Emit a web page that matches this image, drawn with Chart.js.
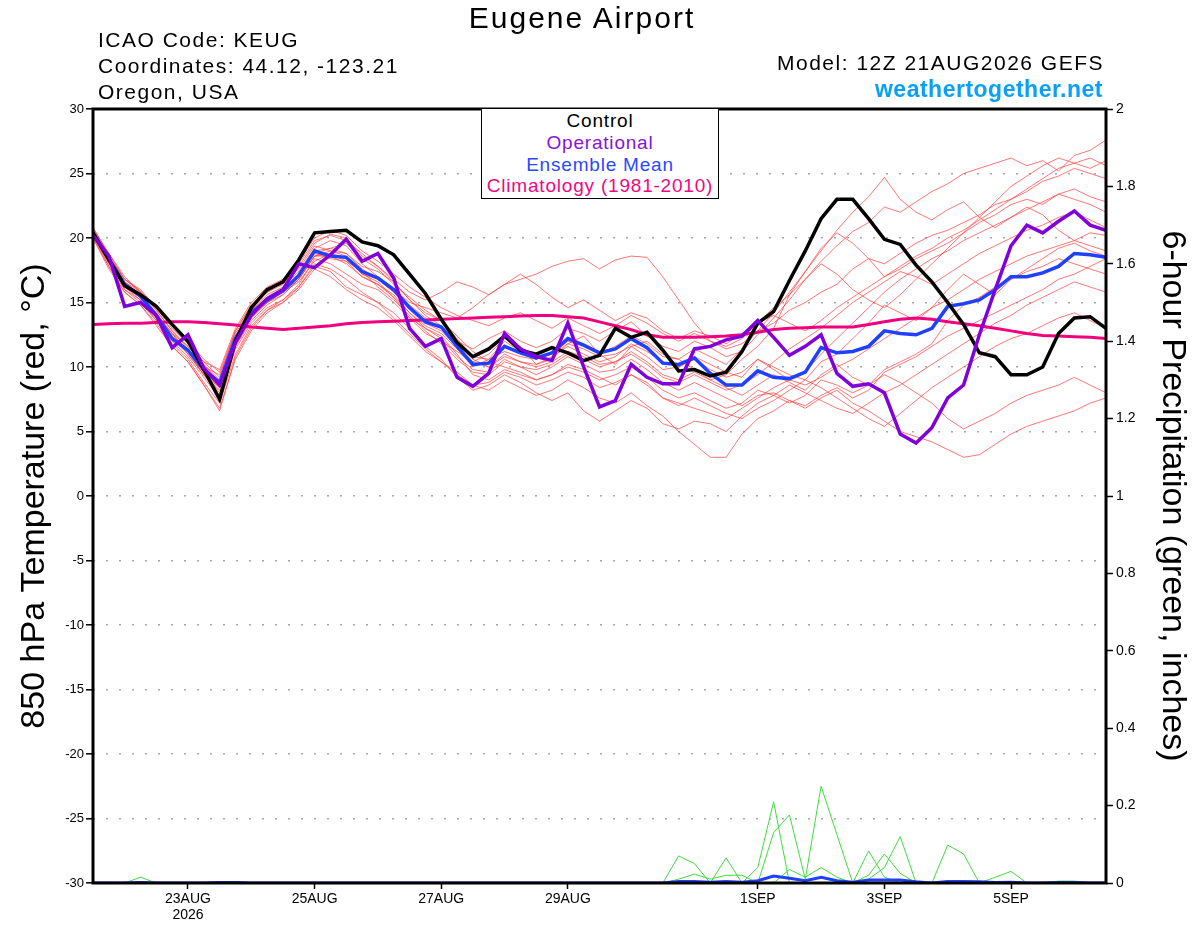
<!DOCTYPE html>
<html>
<head>
<meta charset="utf-8">
<title>Eugene Airport</title>
<script src="https://cdn.jsdelivr.net/npm/chart.js@4.4.1/dist/chart.umd.min.js"></script>
<style>
  body { margin: 0; background: #fff; font-family: "Liberation Sans", Arial, sans-serif; }
  #wrap { position: relative; width: 1200px; height: 927px; overflow: hidden; }
  canvas { position: absolute; left: 0; top: 0; }
  .txt { position: absolute; white-space: nowrap; color: #000; }
  #title { left: 382px; width: 400px; top: 1px; text-align: center; font-size: 30px; line-height: 34px; letter-spacing: 2px; }
  .info { left: 98px; font-size: 21px; line-height: 24px; letter-spacing: 1.5px; }
  #model { right: 96px; top: 51px; font-size: 21px; line-height: 24px; letter-spacing: 1.5px; }
  #site { right: 97px; top: 76px; font-size: 23px; line-height: 26px; font-weight: bold; color: #0aa0f8; letter-spacing: 0.5px; }
  #legendBox { position: absolute; left: 481px; top: 108px; width: 236px; height: 88px; border: 1.5px solid #000;
               background: #fff; text-align: center; font-size: 19px; line-height: 21.8px; letter-spacing: 0.8px; padding-top: 1px; }
</style>
</head>
<body>
<div id="wrap">
  <canvas id="c" width="1200" height="927"></canvas>
  <div id="title" class="txt">Eugene Airport</div>
  <div class="txt info" style="top:28px">ICAO Code: KEUG</div>
  <div class="txt info" style="top:54px">Coordinates: 44.12, -123.21</div>
  <div class="txt info" style="top:80px">Oregon, USA</div>
  <div id="model" class="txt">Model: 12Z 21AUG2026 GEFS</div>
  <div id="site" class="txt">weathertogether.net</div>
  <div id="legendBox">
    <div style="color:#000">Control</div>
    <div style="color:#8a10e0">Operational</div>
    <div style="color:#2a48ff">Ensemble Mean</div>
    <div style="color:#f0087f">Climatology (1981-2010)</div>
  </div>
</div>
<script>
// run starts 12Z 21AUG2026, one value every 6 hours out to 384 h
const stepHours = 6;
const tickHours = [36, 84, 132, 180, 252, 300, 348];
const tickLabels = [['23AUG', '2026'], '25AUG', '27AUG', '29AUG', '1SEP', '3SEP', '5SEP'];

// 850 hPa temperature (C)
const control = [
  20.4, 18.3, 16.3, 15.6, 14.7, 13.3, 12.0, 9.8, 7.5, 12.0,
  14.6, 16.0, 16.6, 18.3, 20.4, 20.5, 20.6, 19.7, 19.4, 18.7,
  17.2, 15.7, 13.7, 11.9, 10.8, 11.4, 12.4, 11.3, 11.0, 11.5,
  11.1, 10.5, 10.9, 13.0, 12.3, 12.7, 11.3, 9.7, 9.8, 9.3,
  9.6, 11.2, 13.4, 14.3, 16.7, 19.0, 21.5, 23.0, 23.0, 21.5,
  19.9, 19.5, 17.9, 16.6, 15.0, 13.3, 11.1, 10.8, 9.4, 9.4,
  10.0, 12.6, 13.8, 13.9, 13.0
];
const operational = [
  20.2, 18.6, 14.7, 15.0, 14.0, 11.5, 12.5, 9.9, 8.6, 11.9,
  14.0, 15.3, 16.0, 18.0, 17.7, 18.7, 19.9, 18.2, 18.8, 16.9,
  13.0, 11.6, 12.2, 9.2, 8.5, 9.5, 12.6, 11.4, 10.8, 10.5,
  13.4, 10.0, 6.9, 7.4, 10.2, 9.2, 8.7, 8.7, 11.4, 11.6,
  12.1, 12.4, 13.6, 12.3, 10.9, 11.6, 12.5, 9.5, 8.5, 8.7,
  8.0, 4.8, 4.1, 5.3, 7.6, 8.6, 12.5, 16.0, 19.4, 21.0,
  20.4, 21.3, 22.1, 21.0, 20.6
];
const ensembleMean = [
  20.4, 18.4, 16.4, 15.5, 14.0, 12.2, 11.3, 9.8, 8.8, 12.2,
  14.2, 15.2, 15.9, 17.1, 19.0, 18.6, 18.5, 17.4, 16.9, 16.0,
  14.6, 13.5, 13.1, 11.6, 10.2, 10.3, 11.6, 11.1, 10.7, 11.1,
  12.2, 11.7, 11.1, 11.4, 12.2, 11.5, 10.3, 10.2, 10.7, 9.5,
  8.6, 8.6, 9.7, 9.2, 9.1, 9.6, 11.5, 11.1, 11.2, 11.6,
  12.8, 12.6, 12.5, 13.0, 14.7, 14.9, 15.2, 16.0, 17.0, 17.0,
  17.3, 17.8, 18.8, 18.7, 18.5
];
const climatology = [
  13.3, 13.35, 13.4, 13.4, 13.45, 13.5, 13.5, 13.45, 13.35, 13.25,
  13.1, 13.0, 12.9, 13.0, 13.1, 13.2, 13.35, 13.45, 13.5, 13.55,
  13.6, 13.65, 13.7, 13.75, 13.8, 13.85, 13.9, 13.95, 14.0, 14.0,
  13.9, 13.8, 13.5, 13.2, 12.9, 12.5, 12.3, 12.3, 12.3, 12.35,
  12.4, 12.5, 12.7, 12.9, 13.0, 13.05, 13.1, 13.1, 13.1, 13.3,
  13.5, 13.7, 13.8, 13.7, 13.5, 13.35, 13.2, 13.0, 12.8, 12.6,
  12.45, 12.4, 12.35, 12.3, 12.2
];

// ensemble members
const m01 = [20.8,18.6,16.8,15.9,14.6,13.0,11.8,10.4,9.2, 12.8,14.8,15.8,16.4,17.8,19.6,20.3,20.0,18.6,17.8, 16.6,15.2,14.0,13.2,12.0,11.4,12.2,12.8,12.0,11.5, 12.0,13.0,12.6,12.0,12.8,13.5,12.4,11.6,11.2,12.0, 11.5,10.8,11.2,12.5,13.8,15.2,16.8,18.2,19.4,20.5, 21.2,22.4,22.0,22.8,23.6,24.2,25.0,25.4,25.8,26.2, 25.6,26.0,25.2,26.4,26.8,27.6];
const m02 = [20.2,18.0,16.2,15.2,13.8,12.6,11.0,9.4,8.2, 11.6,13.6,14.8,15.6,16.8,18.6,19.0,18.6,17.2,16.6, 15.4,13.8,12.6,12.0,11.2,10.4,11.0,12.2,11.6,10.2, 10.6,11.8,12.4,11.0,10.2,11.6,12.0,11.0,10.6,9.8, 9.0,9.4,10.6,11.6,13.0,15.6,17.4,19.0,20.6,22.0, 23.2,24.7,23.0,22.0,21.4,22.2,22.8,21.6,20.8,21.6, 22.4,21.8,20.6,19.8,19.4,19.0];
const m03 = [20.6,18.8,17.0,15.8,14.4,12.8,11.6,10.2,9.0, 12.4,14.4,15.6,16.2,17.4,19.2,19.8,19.4,18.0,17.0, 16.0,15.0,14.6,14.2,13.8,14.6,15.6,16.4,16.8,17.2, 17.8,18.2,18.4,17.6,18.3,18.6,18.5,17.0,15.2,13.4, 12.0,11.4,11.8,12.8,13.4,14.4,15.0,15.8,16.4,17.6, 18.4,18.0,18.8,19.6,20.2,20.6,21.2,21.8,22.6,23.0, 23.6,24.4,24.8,25.4,25.0,24.6];
const m04 = [20.0,17.6,15.8,14.8,13.2,11.6,10.4,8.6,6.6, 10.8,13.0,14.4,15.0,16.2,18.0,17.6,16.8,15.8,15.0, 13.8,12.6,11.4,10.4,9.6,8.6,8.2,9.0,8.4,7.8, 8.2,9.0,8.4,7.6,7.2,8.0,7.0,6.2,5.0,4.0, 3.0,3.0,4.8,6.0,6.6,7.4,7.0,7.8,8.4,7.6, 8.2,9.6,10.2,10.8,11.6,12.4,13.0,13.6,14.2,14.8, 15.4,16.0,16.8,17.2,17.8,18.4];
const m05 = [20.4,18.2,16.4,15.4,14.0,12.2,11.2,9.6,8.0, 11.8,13.8,15.0,15.8,16.6,18.2,18.8,18.2,17.4,16.2, 15.2,14.0,12.8,11.8,10.6,9.6,9.4,10.4,10.0,9.4, 10.0,10.8,10.2,9.6,9.8,10.6,9.8,8.8,8.2,8.8, 8.2,7.6,7.0,7.8,8.0,7.4,6.8,7.6,8.2,7.2, 6.6,5.8,5.0,4.6,4.2,3.6,3.0,3.2,4.0,4.8, 5.4,5.8,6.2,6.6,7.2,7.6];
const m06 = [20.6,18.4,16.6,15.6,14.2,12.4,11.4,9.8,8.6, 12.2,14.4,15.4,16.0,17.2,19.0,19.2,19.6,18.4,17.6, 16.4,15.4,14.4,13.6,12.4,11.2,10.4,10.0,9.6,9.0, 9.4,10.2,9.8,9.2,8.6,9.4,8.8,7.6,7.2,6.8, 6.4,6.0,6.8,7.6,8.4,9.0,8.6,9.2,10.0,10.6, 11.4,12.2,13.0,13.8,14.6,15.2,16.0,16.8,17.4,18.0, 18.6,19.0,19.4,19.8,20.4,20.2];
const m07 = [20.2,18.2,16.0,15.2,13.6,12.0,10.8,9.2,7.6, 11.4,13.4,14.6,15.2,16.4,18.4,18.0,17.2,16.4,16.0, 15.0,13.8,13.0,12.4,11.0,9.4,9.0,9.8,9.4,9.0, 9.4,10.0,9.6,9.0,9.4,10.0,9.2,8.2,7.6,8.0, 7.4,6.8,7.2,8.2,7.8,7.2,7.8,9.0,8.6,8.0, 8.6,9.8,10.4,11.0,11.8,13.6,14.8,15.4,16.2,16.8, 17.4,17.8,18.4,18.0,17.6,17.2];
const m08 = [20.8,18.6,16.6,15.8,14.4,12.8,11.4,10.0,9.4, 12.6,14.6,15.8,16.6,17.6,19.4,19.0,18.8,17.8,17.4, 16.6,15.2,14.2,13.6,12.2,10.8,10.6,12.0,11.2,10.6, 11.0,12.0,11.6,11.0,11.6,12.4,11.8,10.8,10.6,11.4, 10.8,10.2,11.4,12.8,14.2,15.8,17.4,19.2,20.4,19.6, 18.4,17.0,17.6,18.4,19.0,19.6,20.4,21.2,21.8,22.6, 23.0,22.6,23.4,23.8,23.2,22.8];
const m09 = [20.4,18.4,16.2,15.4,14.0,12.6,11.6,10.2,8.8, 12.4,14.4,15.2,15.8,17.0,18.8,18.4,18.2,17.0,16.4, 15.6,14.2,13.2,12.6,11.4,10.0,10.6,11.2,10.8,10.6, 11.0,11.8,11.4,10.8,11.0,11.6,10.8,9.8,10.0,10.8, 10.2,9.6,9.2,10.6,10.0,9.4,9.0,10.4,11.0,12.2, 13.4,14.8,14.2,13.6,14.6,16.0,17.2,16.4,15.6,16.8, 17.6,18.4,19.2,19.6,19.0,18.6];
const m10 = [20.6,18.4,16.4,15.6,14.0,12.4,11.2,9.4,7.8, 11.6,13.8,15.0,15.6,16.8,18.6,18.8,18.4,17.2,16.8, 15.8,14.6,13.4,12.8,11.6,10.4,10.0,11.0,10.4,10.0, 10.4,11.2,10.8,10.2,10.4,11.2,10.4,9.4,9.0,9.6, 9.0,8.4,7.8,8.6,9.4,8.8,8.2,9.4,10.2,9.2, 8.6,9.4,8.8,8.0,7.2,6.0,5.2,5.8,6.4,7.2, 7.8,8.2,8.6,9.2,8.6,8.0];
const m11 = [20.6,18.6,16.8,15.8,14.6,13.2,12.0,10.6,9.6, 12.8,14.8,15.8,16.6,18.0,19.8,20.2,19.8,18.8,17.8, 16.8,15.8,15.2,15.8,16.6,16.2,15.6,16.4,17.2,16.4, 15.4,14.6,15.2,14.4,13.6,14.2,13.8,12.8,12.2,12.8, 12.4,11.8,12.6,13.4,14.0,13.4,12.8,13.6,14.6,15.4, 16.2,17.0,17.8,18.6,19.2,20.0,20.6,21.4,22.2,23.0, 23.8,24.6,25.4,25.8,26.2,25.6];
const m12 = [20.2,17.8,16.0,15.0,13.6,11.8,10.6,8.8,7.2, 11.0,13.2,14.4,15.2,16.2,17.8,17.4,16.2,15.6,15.0, 14.2,13.0,11.6,10.6,9.2,8.2,8.6,9.4,8.8,8.0, 7.4,8.0,6.6,5.8,6.6,7.4,6.8,5.6,5.2,5.8, 5.6,5.0,6.2,7.2,7.8,8.6,8.0,7.4,6.8,6.4, 7.2,8.0,8.6,9.4,10.2,11.0,11.8,12.6,13.4,14.0, 14.8,15.4,16.0,16.6,16.2,15.8];
const m13 = [20.4,18.2,16.4,15.4,14.2,12.6,11.2,9.6,8.4, 12.0,14.0,15.2,15.8,17.0,18.8,19.2,18.8,17.6,16.8, 15.8,14.8,13.8,13.0,11.8,10.6,10.0,10.8,10.4,10.2, 10.8,11.6,11.0,10.4,10.8,11.8,11.2,10.4,10.0,10.6, 9.8,9.2,9.6,10.6,9.8,9.0,9.6,11.0,12.2,13.4, 14.6,15.8,16.8,17.6,18.4,19.0,19.8,20.4,21.0,21.6, 22.2,22.8,23.4,23.0,22.6,22.0];
const m14 = [20.8,18.8,16.8,16.0,14.6,13.4,11.8,10.4,9.8, 13.0,15.0,16.2,16.8,18.2,20.0,20.6,20.2,19.0,18.2, 17.2,16.2,15.4,14.6,14.0,13.6,13.2,13.8,14.2,13.6, 13.0,13.8,13.2,12.6,13.2,14.0,13.4,12.6,12.0,12.6, 12.0,11.6,12.2,13.4,14.6,15.6,16.8,18.0,17.2,16.0, 15.2,14.6,15.6,16.8,18.0,19.2,20.4,21.6,22.8,24.0, 24.8,25.6,26.2,25.8,25.4,26.0];
const m15 = [20.0,17.8,15.8,14.8,13.4,11.6,10.4,8.6,6.8, 10.6,12.8,14.2,15.0,16.0,17.6,17.0,16.0,15.2,14.6, 13.6,12.4,11.2,10.4,9.4,8.6,8.8,9.6,9.2,8.6, 9.0,9.6,9.2,8.4,8.8,9.4,8.6,7.6,7.0,7.6, 7.0,6.4,6.0,6.8,7.4,8.2,9.0,8.4,7.6,6.8, 6.0,5.4,6.4,7.4,8.4,9.2,10.0,10.8,11.6,12.2, 12.6,13.2,13.8,14.2,13.6,13.0];
const m16 = [20.4,18.2,16.2,15.4,13.8,12.2,11.0,9.4,8.4, 12.0,14.0,15.0,15.8,16.8,18.6,18.6,18.0,17.0,16.4, 15.4,14.2,13.0,12.2,10.8,9.8,9.6,10.6,10.0,9.8, 10.2,11.0,10.6,10.0,10.4,11.0,10.2,9.2,8.8,9.4, 8.8,8.2,8.6,9.4,10.4,11.4,12.2,13.0,14.0,15.0, 15.8,16.6,17.4,17.0,16.4,17.2,18.0,18.8,19.4,20.0, 20.6,21.0,21.6,22.0,21.4,20.8];
const members = [m01, m02, m03, m04, m05, m06, m07, m08, m09, m10, m11, m12, m13, m14, m15, m16];

// 6-hour precipitation (inches), members and ensemble mean
const p01 = [0,0,0,0.015,0,0,0,0,0,0, 0,0,0,0,0,0,0,0,0,0, 0,0,0,0,0,0,0,0,0,0, 0,0,0,0,0,0,0,0.07,0.05,0, 0.065,0,0,0,0,0,0,0,0,0, 0,0,0,0,0,0,0,0,0,0, 0,0,0,0,0];
const p02 = [0,0,0,0,0,0,0,0,0.003,0.003, 0,0,0,0,0,0,0,0,0,0, 0,0,0,0,0,0,0,0,0,0, 0,0,0,0,0,0,0,0.01,0.023,0.01, 0.02,0.02,0,0,0,0,0,0,0,0, 0,0,0,0,0,0,0,0,0,0, 0,0,0,0,0];
const p03 = [0,0,0,0,0,0,0,0,0,0, 0,0,0,0,0,0,0,0,0,0, 0,0,0,0,0,0,0,0,0,0, 0,0,0,0,0,0,0,0,0,0, 0,0,0.04,0.21,0,0,0,0,0,0, 0,0,0,0,0,0,0,0,0,0, 0,0,0,0,0];
const p04 = [0,0,0,0,0,0,0,0,0,0, 0,0,0,0,0,0,0,0,0,0, 0,0,0,0,0,0,0,0,0,0, 0,0,0,0,0,0,0,0,0,0, 0,0,0,0.13,0.176,0.01,0.25,0.125,0,0, 0,0,0,0,0,0,0,0,0,0, 0,0,0,0,0];
const p05 = [0,0,0,0,0,0,0,0,0,0, 0,0,0,0,0,0,0,0,0,0, 0,0,0,0,0,0,0,0,0,0, 0,0,0,0,0,0,0,0,0,0, 0,0,0,0,0.035,0.015,0.04,0.015,0,0, 0,0,0,0,0,0,0,0,0,0, 0,0,0,0,0];
const p06 = [0,0,0,0,0,0,0,0,0,0, 0,0,0,0,0,0,0,0,0,0, 0,0,0,0,0,0,0,0,0,0, 0,0,0,0,0,0,0,0,0,0, 0,0,0,0,0,0,0,0,0,0.083, 0.015,0,0,0,0,0,0,0,0,0, 0,0,0,0,0];
const p07 = [0,0,0,0,0,0,0,0,0,0, 0,0,0,0,0,0,0,0,0,0, 0,0,0,0,0,0,0,0,0,0, 0,0,0,0,0,0,0,0,0,0, 0,0,0,0,0,0,0,0,0,0.02, 0.075,0.025,0,0,0,0,0,0,0,0, 0,0,0,0,0];
const p08 = [0,0,0,0,0,0,0,0,0,0, 0,0,0,0,0,0,0,0,0,0, 0,0,0,0,0,0,0,0,0,0, 0,0,0,0,0,0,0,0,0,0, 0,0,0,0,0,0,0,0,0,0.01, 0.04,0.12,0,0,0,0,0,0,0,0, 0,0,0,0,0];
const p09 = [0,0,0,0,0,0,0,0,0,0, 0,0,0,0,0,0,0,0,0,0, 0,0,0,0,0,0,0,0,0,0, 0,0,0,0,0,0,0,0,0,0, 0,0,0,0,0,0,0,0,0,0, 0,0,0,0,0.098,0.075,0,0,0,0, 0,0,0,0,0];
const p10 = [0,0,0,0,0,0,0,0,0,0, 0,0,0,0,0,0,0,0,0,0, 0,0,0,0,0,0,0,0,0,0, 0,0,0,0,0,0,0,0,0,0, 0,0,0,0,0,0,0,0,0,0, 0,0,0,0,0,0,0,0.015,0.03,0, 0,0.005,0.005,0,0];
const precipMembers = [p01, p02, p03, p04, p05, p06, p07, p08, p09, p10];
const precipMean = [0,0,0,0.001,0,0,0,0,0.001,0.001, 0,0,0,0,0,0,0,0,0,0, 0,0,0,0,0,0,0,0,0,0, 0,0,0,0,0,0,0,0.004,0.004,0.002, 0.004,0.002,0.006,0.018,0.012,0.006,0.015,0.006,0.002,0.008, 0.008,0.008,0.003,0,0.004,0.004,0.003,0.001,0.002,0, 0,0.001,0.001,0,0];

const FONT = '"Liberation Sans", Arial, sans-serif';
Chart.defaults.font.family = FONT;
Chart.defaults.color = '#000';

// index -> hours since the run start
function toPts(arr) {
  return arr.map((v, i) => ({ x: i * stepHours, y: v }));
}

function line(data, color, width, axis, order) {
  return {
    data: toPts(data),
    borderColor: color,
    borderWidth: width,
    pointRadius: 0,
    tension: 0,
    fill: false,
    yAxisID: axis,
    order: order
  };
}

const datasets = [];
datasets.push(line(operational, '#8000dc', 3.5, 'y', 0));
datasets.push(line(control, '#000000', 3.5, 'y', 1));
datasets.push(line(ensembleMean, '#1f40ff', 3.5, 'y', 2));
datasets.push(line(climatology, '#f0007f', 3, 'y', 3));
members.forEach(m => datasets.push(line(m, 'rgba(255,60,60,0.7)', 1, 'y', 5)));
datasets.push(line(precipMean, '#1f40ff', 3, 'y2', 4));
precipMembers.forEach(p => datasets.push(line(p, '#3fdc3f', 1, 'y2', 6)));

// thick frame round the plot area
const framePlugin = {
  id: 'frame',
  afterDatasetsDraw(chart) {
    const { ctx, chartArea: a } = chart;
    ctx.save();
    ctx.strokeStyle = '#000';
    ctx.lineWidth = 3;
    ctx.strokeRect(a.left, a.top, a.right - a.left, a.bottom - a.top);
    ctx.restore();
  }
};

new Chart(document.getElementById('c'), {
  type: 'line',
  data: { datasets: datasets },
  plugins: [framePlugin],
  options: {
    responsive: false,
    devicePixelRatio: 1,
    animation: false,
    events: [],
    layout: { padding: { top: 109, left: 0, right: 0, bottom: 0 } },
    plugins: { legend: { display: false }, tooltip: { enabled: false } },
    scales: {
      x: {
        type: 'linear',
        min: 0,
        max: 384,
        afterBuildTicks(scale) { scale.ticks = tickHours.map(v => ({ value: v })); },
        afterFit(scale) { scale.height = 44; },
        ticks: {
          autoSkip: false,
          maxRotation: 0,
          padding: 2,
          font: { size: 14, lineHeight: 1.15 },
          callback(value) {
            const k = tickHours.indexOf(value);
            return k >= 0 ? tickLabels[k] : '';
          }
        },
        grid: { drawOnChartArea: false, tickLength: 6, tickColor: '#000', tickWidth: 1.5 },
        border: { display: false }
      },
      y: {
        position: 'left',
        min: -30,
        max: 30,
        afterFit(scale) { scale.width = 93; },
        ticks: { stepSize: 5, padding: 2, font: { size: 13 } },
        grid: { color: '#a8a8a8', lineWidth: 1.6, tickLength: 7, tickColor: '#000', tickWidth: 1.5 },
        border: { display: false, dash: [2, 11] },
        title: {
          display: true,
          text: '850 hPa Temperature (red, °C)',
          font: { size: 34, lineHeight: 1.2 },
          padding: { top: 14, bottom: 0 }
        }
      },
      y2: {
        position: 'right',
        min: 0,
        max: 2,
        afterFit(scale) { scale.width = 94; },
        ticks: {
          stepSize: 0.2,
          padding: 3,
          font: { size: 14 },
          callback: v => String(Math.round(v * 10) / 10)
        },
        grid: { drawOnChartArea: false, tickLength: 7, tickColor: '#000', tickWidth: 1.5 },
        border: { display: false },
        title: {
          display: true,
          text: '6-hour Precipitation (green, inches)',
          font: { size: 34, lineHeight: 1.2 },
          padding: { top: 7, bottom: 0 }
        }
      }
    }
  }
});
</script>
</body>
</html>
